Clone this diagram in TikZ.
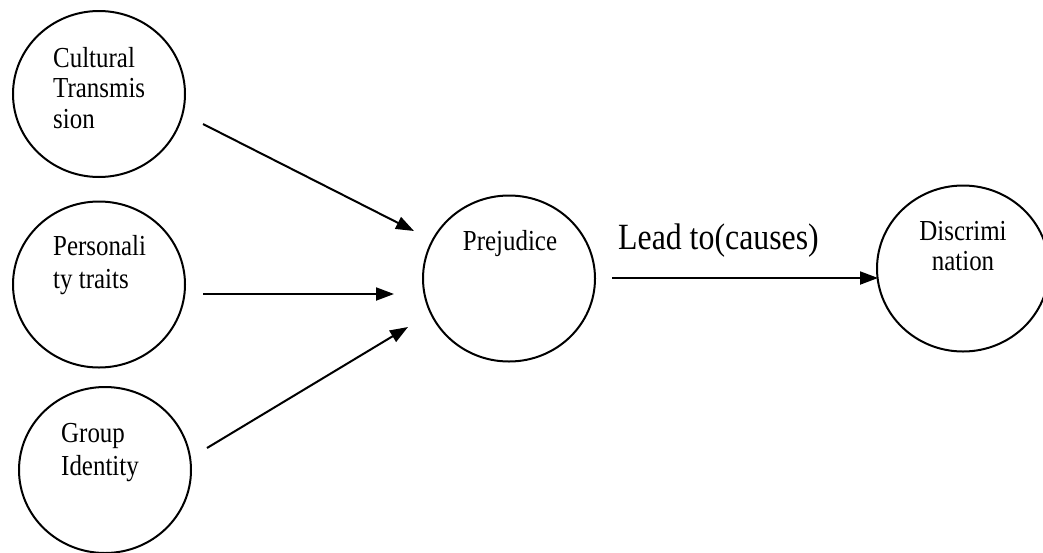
\documentclass[tikz,border=0pt]{standalone}
\usepackage{fontspec}
\setmainfont[FakeStretch=0.86]{Liberation Serif}
\usetikzlibrary{arrows.meta,shapes.geometric}
\begin{document}
\begin{tikzpicture}[x=1pt,y=-1pt,
  bub/.style={draw,line width=2pt,ellipse,minimum width=172pt,minimum height=166pt,inner sep=0pt},
  lbl/.style={font=\fontsize{29}{33}\selectfont,inner sep=0pt,align=left},
  clbl/.style={font=\fontsize{29}{30}\selectfont,inner sep=0pt,align=center},
  link/.style={line width=2pt,-{Triangle[length=18pt,width=13pt]}}]
\useasboundingbox (0,0) rectangle (1043,552);
\clip (0,0) rectangle (1043,552);
% circles
\node[bub] (c1) at (99,94) {};
\node[bub] (c2) at (99,284.5) {};
\node[bub] (c3) at (105,470) {};
\node[bub] (p) at (509,278.5) {};
\node[bub] (d) at (963,268.5) {};
% texts (anchored at the baseline of the last line)
\node[lbl,font=\fontsize{29}{30.5}\selectfont,anchor=base west] (t1) at (53,128) {Cultural\\Transmis\\sion};
\node[lbl,anchor=base west] (t2) at (53,288) {Personali\\ty traits};
\node[lbl,anchor=base west] (t3) at (61,475) {Group\\Identity};
\node[clbl,anchor=base] (tp) at (510,250) {Prejudice};
\node[clbl,anchor=base] (td) at (963,270) {Discrimi\\nation};
\node[font=\fontsize{37}{40}\selectfont,inner sep=0pt,anchor=base west] (lead) at (618,249) {Lead to(causes)};
% arrow ends
\coordinate (a1s) at (203,124);
\coordinate (a1e) at (414,231);
\coordinate (a2s) at (203,294);
\coordinate (a2e) at (394,294);
\coordinate (a3s) at (207,448);
\coordinate (a3e) at (408,327);
\coordinate (a4s) at (612,278);
\coordinate (a4e) at (878,278);
\draw[link] (a1s) -- (a1e);
\draw[link] (a2s) -- (a2e);
\draw[link] (a3s) -- (a3e);
\draw[link] (a4s) -- (a4e);
\end{tikzpicture}
\end{document}
